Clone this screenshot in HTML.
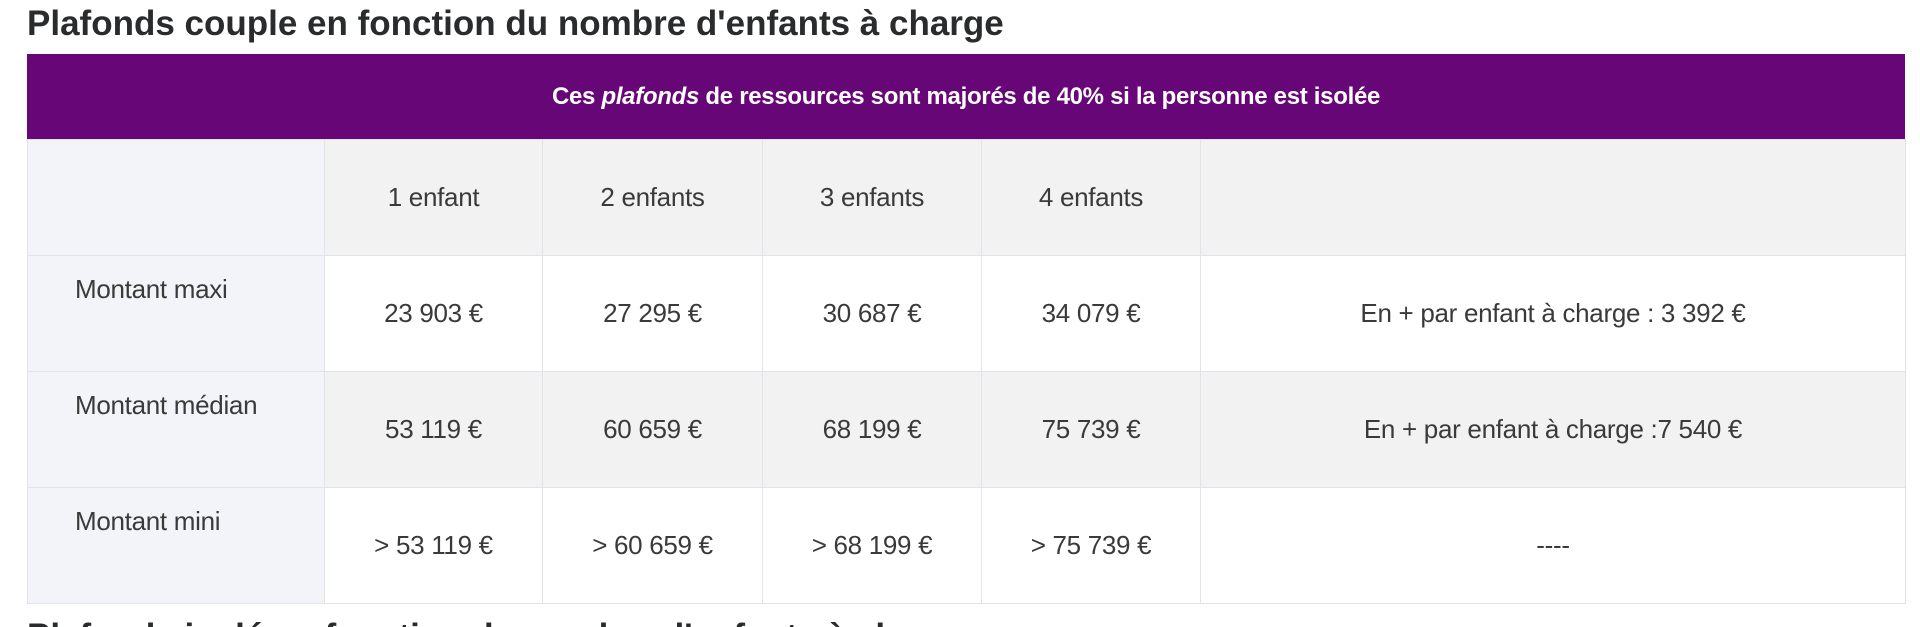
<!DOCTYPE html>
<html><head><meta charset="utf-8"><style>
*{margin:0;padding:0;box-sizing:border-box}
html,body{width:1920px;height:627px;overflow:hidden}
body{background:#fff;font-family:"Liberation Sans",sans-serif;position:relative}
h2{position:absolute;left:27px;top:4px;font-size:35px;font-weight:bold;color:#2a2b2d;letter-spacing:0;white-space:nowrap}
svg.clip{position:absolute;left:0;top:615px;width:1920px;height:12px;overflow:hidden;display:block}
.banner{position:absolute;left:27px;top:54px;width:1878px;height:85px;background:#670777;color:#fff;font-weight:bold;font-size:24px;text-align:center;line-height:85px;letter-spacing:-0.3px}
table{position:absolute;left:27px;top:139px;border-collapse:collapse;table-layout:fixed;width:1878px}
td{border:1px solid #e2e3ea;height:116px;text-align:center;vertical-align:middle;color:#3a3a3a;font-size:26px;letter-spacing:-0.3px}
td.lab{background:#f3f4f9;text-align:left;vertical-align:top;padding:18px 0 0 47px}
tr.g td{background:#f2f2f2}
tr.g td.lab{background:#f3f4f9}
tr.w td{background:#fff}
tr.w td.lab{background:#f3f4f9}
</style></head><body>
<h2>Plafonds couple en fonction du nombre d'enfants à charge</h2>
<div class="banner">Ces <i>plafonds</i> de ressources sont majorés de 40% si la personne est isolée</div>
<table>
<colgroup><col style="width:297px"><col style="width:218px"><col style="width:220px"><col style="width:219px"><col style="width:219px"><col style="width:705px"></colgroup>
<tr class="g"><td class="lab"></td><td>1 enfant</td><td>2 enfants</td><td>3 enfants</td><td>4 enfants</td><td></td></tr>
<tr class="w"><td class="lab">Montant maxi</td><td>23 903 €</td><td>27 295 €</td><td>30 687 €</td><td>34 079 €</td><td>En + par enfant à charge : 3 392 €</td></tr>
<tr class="g"><td class="lab">Montant médian</td><td>53 119 €</td><td>60 659 €</td><td>68 199 €</td><td>75 739 €</td><td>En + par enfant à charge :7 540 €</td></tr>
<tr class="w"><td class="lab">Montant mini</td><td>&gt; 53 119 €</td><td>&gt; 60 659 €</td><td>&gt; 68 199 €</td><td>&gt; 75 739 €</td><td>----</td></tr>
</table>
<svg class="clip" width="1920" height="12"><text x="27" y="33" font-family="Liberation Sans, sans-serif" font-size="35" font-weight="bold" fill="#2a2b2d">Plafonds isolé en fonction du nombre d'enfants à charge</text></svg>
</body></html>
